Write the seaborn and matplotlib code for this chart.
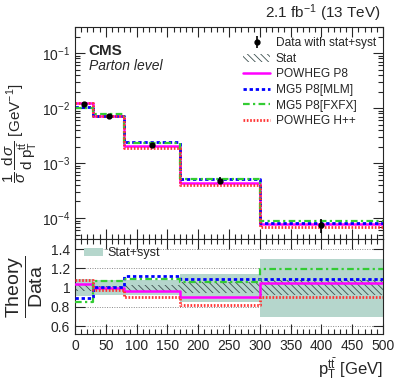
import numpy as np
import pandas as pd
import matplotlib
matplotlib.use("Agg")
import matplotlib.pyplot as plt
import seaborn as sns
from matplotlib.patches import Patch
from matplotlib.ticker import FixedLocator, FixedFormatter, LogLocator, NullFormatter, MultipleLocator

# ---------------- data ----------------
bin_edges = [0, 30, 80, 170, 300, 500]
bin_centers = [15, 55, 125, 235, 400]
data_vals = [0.0117, 0.0072, 0.00213, 4.77e-4, 7.5e-5]
rel_tot = [0.09, 0.075, 0.075, 0.145, 0.30]
rel_stat = [0.035, 0.02, 0.03, 0.06, 0.08]

powheg_p8 = [0.01217, 0.00720, 0.002066, 4.32e-4, 7.88e-5]
mg5_mlm = [0.01041, 0.00727, 0.002396, 5.20e-4, 8.18e-5]
mg5_fxfx = [0.00995, 0.00770, 0.002322, 5.06e-4, 8.93e-5]
powheg_hpp = [0.01264, 0.00706, 0.001917, 3.91e-4, 6.75e-5]

model_names = ["POWHEG P8", "MG5 P8[MLM]", "MG5 P8[FXFX]", "POWHEG H++"]
model_vals = [powheg_p8, mg5_mlm, mg5_fxfx, powheg_hpp]
model_colors = ["#ff00ff", "#0000ff", "#33cc33", "#ff3333"]
model_styles = ["-", (0, (1.2, 1.0)), (0, (3, 1.5, 1, 1.5)), (0, (0.6, 0.6))]
model_lw = [1.8, 2.0, 1.6, 2.0]

ratio_ticks = [0.6, 0.8, 1.0, 1.2, 1.4]
ratio_labels = ["0.6", "0.8", "1", "1.2", "1.4"]

# ---------------- style ----------------
sns.set_style("ticks")
plt.rcParams["font.family"] = ["Liberation Sans", "DejaVu Sans"]
plt.rcParams["mathtext.fontset"] = "custom"
plt.rcParams["mathtext.rm"] = "Liberation Sans"
plt.rcParams["mathtext.it"] = "Liberation Sans:italic"
plt.rcParams["mathtext.bf"] = "Liberation Sans:bold"
plt.rcParams["hatch.linewidth"] = 0.6
plt.rcParams["hatch.color"] = "#3d5050"

fig = plt.figure(figsize=(3.99, 3.85), dpi=100)
ax = fig.add_axes([0.188, 0.380, 0.772, 0.550])
axr = fig.add_axes([0.188, 0.133, 0.772, 0.247], sharex=ax)

edges = np.array(bin_edges, dtype=float)
dv = np.array(data_vals)
band_col = "#b5d6cc"

def stepvals(v):
    v = np.asarray(v, dtype=float)
    return np.append(v, v[-1])

# ---------------- top panel ----------------
for name, vals, c, ls, lw in zip(model_names, model_vals, model_colors, model_styles, model_lw):
    df = pd.DataFrame({"x": edges, "y": stepvals(vals)})
    sns.lineplot(data=df, x="x", y="y", ax=ax, drawstyle="steps-post", color=c,
                 linestyle=ls, linewidth=lw, legend=False, errorbar=None, sort=False)

err = ax.errorbar(bin_centers, dv, yerr=dv * np.array(rel_tot), fmt="o", color="black",
                  markersize=3.5, elinewidth=1.2, capsize=0, zorder=10)
ax.set_yscale("log")
ax.set_ylim(4.2e-5, 0.3)
ax.set_xlim(0, 500)
ax.set_xlabel("")
ax.set_ylabel(r"$\dfrac{1}{\sigma}\,\dfrac{\mathrm{d}\,\sigma}{\mathrm{d\;p}_{\mathrm{T}}^{\mathrm{t\bar{t}}}}$ [GeV$^{-1}$]",
              fontsize=11, labelpad=2)
ax.yaxis.set_major_locator(FixedLocator([1e-4, 1e-3, 1e-2, 1e-1]))
ax.yaxis.set_minor_locator(LogLocator(base=10, subs=np.arange(2, 10)))
ax.yaxis.set_minor_formatter(NullFormatter())
plt.setp(ax.get_xticklabels(), visible=False)

stat_patch = Patch(facecolor="white", edgecolor="#3d5050", hatch="\\\\\\\\\\", linewidth=0)
model_handles = [plt.Line2D([], [], color=c, linestyle=ls, linewidth=lw)
                 for c, ls, lw in zip(model_colors, model_styles, model_lw)]
leg = ax.legend([err, stat_patch] + model_handles,
                ["Data with stat+syst", "Stat"] + model_names,
                loc="upper right", bbox_to_anchor=(1.0, 0.985), frameon=False,
                fontsize=8.6, handlelength=2.2, handletextpad=0.5, labelspacing=0.3,
                borderaxespad=0.2)

ax.text(0.045, 0.885, "CMS", transform=ax.transAxes, fontsize=11, fontweight="bold",
        va="center", ha="left")
ax.text(0.045, 0.815, "Parton level", transform=ax.transAxes, fontsize=10, style="italic",
        va="center", ha="left")
fig.text(0.953, 0.965, r"2.1 fb$^{-1}$ (13 TeV)", fontsize=11, ha="right", va="center")

# ---------------- ratio panel ----------------
tot = np.array(rel_tot)
stat = np.array(rel_stat)
axr.fill_between(edges, stepvals(1 - tot), stepvals(1 + tot), step="post",
                 color=band_col, linewidth=0, zorder=1)
axr.fill_between(edges, stepvals(1 - stat), stepvals(1 + stat), step="post",
                 facecolor="none", edgecolor="#3d5050", hatch="\\\\\\\\\\", linewidth=0, zorder=2)
for yv in ratio_ticks:
    axr.axhline(yv, color="#888888", linestyle=(0, (1, 1.5)), linewidth=0.7, zorder=0.5)

for name, vals, c, ls, lw in zip(model_names, model_vals, model_colors, model_styles, model_lw):
    r = np.array(vals) / dv
    df = pd.DataFrame({"x": edges, "y": stepvals(r)})
    sns.lineplot(data=df, x="x", y="y", ax=axr, drawstyle="steps-post", color=c,
                 linestyle=ls, linewidth=lw, legend=False, errorbar=None, sort=False, zorder=5)

axr.set_ylim(0.52, 1.51)
axr.set_xlim(0, 500)
axr.yaxis.set_major_locator(FixedLocator(ratio_ticks))
axr.yaxis.set_major_formatter(FixedFormatter(ratio_labels))
axr.yaxis.set_minor_locator(FixedLocator([]))
axr.set_ylabel(r"$\dfrac{\mathrm{Theory}}{\mathrm{Data}}$", fontsize=14, labelpad=4)
axr.set_xlabel(r"$\mathrm{p}_{\mathrm{T}}^{\mathrm{t\bar{t}}}$ [GeV]", fontsize=12, loc="right", labelpad=2)
axr.legend([Patch(facecolor=band_col, edgecolor="none")], ["Stat+syst"], loc="upper left",
           frameon=False, fontsize=9, handlelength=1.5, handletextpad=0.4,
           borderaxespad=0.3)

for a in (ax, axr):
    a.xaxis.set_major_locator(MultipleLocator(50))
    a.xaxis.set_minor_locator(MultipleLocator(10))
    a.tick_params(which="both", direction="in", top=True, right=True, labelsize=10)
    a.tick_params(which="major", length=7, width=0.8)
    a.tick_params(which="minor", length=3.5, width=0.8)
    for s in a.spines.values():
        s.set_linewidth(0.8)
axr.tick_params(axis="x", which="major", pad=4)

fig.savefig("out.png", dpi=100)
